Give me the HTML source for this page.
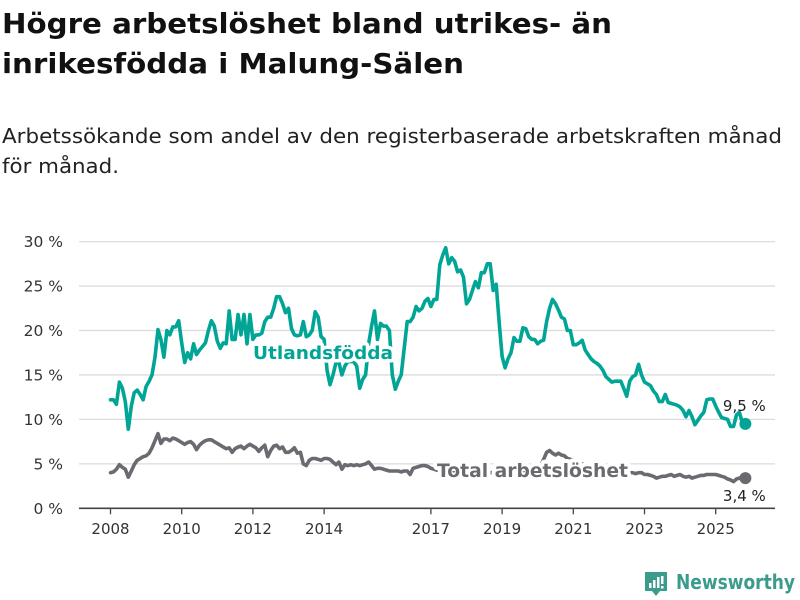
<!DOCTYPE html>
<html><head><meta charset="utf-8"><style>
body{margin:0;background:#fff;width:800px;height:600px;overflow:hidden;font-family:"DejaVu Sans","Liberation Sans",sans-serif;}
svg{position:absolute;left:0;top:0;}
</style></head><body>
<svg width="800" height="200" style="font-family:'DejaVu Sans','Liberation Sans',sans-serif">
<text x="2" y="33" font-size="28" font-weight="bold" fill="#111" textLength="610" lengthAdjust="spacingAndGlyphs">Högre arbetslöshet bland utrikes- än</text>
<text x="2" y="73" font-size="28" font-weight="bold" fill="#111" textLength="462" lengthAdjust="spacingAndGlyphs">inrikesfödda i Malung-Sälen</text>
<text x="2" y="143" font-size="20" fill="#222" textLength="780" lengthAdjust="spacingAndGlyphs">Arbetssökande som andel av den registerbaserade arbetskraften månad</text>
<text x="2" y="173" font-size="20" fill="#222" textLength="117" lengthAdjust="spacingAndGlyphs">för månad.</text>
</svg>
<svg id="chart" width="800" height="600" style="font-family:'DejaVu Sans','Liberation Sans',sans-serif"></svg>
<script>
const yTicks=[0,5,10,15,20,25,30];
const xTicks=[2008,2010,2012,2014,2017,2019,2021,2023,2025];
const startYear=2008;
const foreignBorn=[
12.2,12.2,11.7,14.2,13.5,12,8.9,11.5,13,13.3,12.8,12.2,
13.7,14.3,15,17,20.1,19,17,20,19.5,20.4,20.4,21.1,
18.6,16.4,17.5,16.8,18.5,17.3,17.8,18.2,18.6,20,21.1,20.5,
18.8,18,18.6,18.5,22.2,19,19,21.8,19.5,21.8,18.5,21.8,
19,19.5,19.5,19.7,21,21.5,21.5,22.5,23.8,23.8,23,22,
22.5,20.2,19.5,19.4,19.5,21,19.3,19.5,20,22.1,21.5,19.3,
19,15.5,13.9,15,16.4,16.4,15,16,16.5,16.5,16.5,16,
13.5,14.5,15,18.5,20.5,22.2,19,20.8,20.5,20.5,20,15,
13.4,14.3,15,18,21,21,21.5,22.7,22.2,22.5,23.3,23.6,
22.7,23.5,23.5,27.4,28.5,29.3,27.5,28.2,27.8,26.6,26.8,26,
23,23.5,24.5,25.5,24.8,26.5,26.5,27.5,27.5,24.5,25.2,21,
17.1,15.8,16.8,17.5,19.2,18.8,18.8,20.3,20.2,19.3,19,19,
18.5,18.8,18.9,21,22.5,23.5,23,22.3,21.5,21.3,20,20,
18.4,18.4,18.6,18.9,17.8,17.3,16.8,16.5,16.3,16,15.5,14.8,
14.5,14.2,14.3,14.3,14.3,13.5,12.6,14.3,14.8,15,16.2,15,
14.2,14,13.8,13.2,12.8,12,12,12.8,11.9,11.8,11.7,11.6,
11.4,11,10.3,11,10.3,9.4,9.9,10.4,10.8,12.2,12.3,12.3,
11.5,10.8,10.2,10.1,10,9.2,9.2,10.5,10.8,9.6,9.5];
const total=[
4.0,4.1,4.4,4.9,4.6,4.4,3.5,4.2,4.9,5.4,5.6,5.8,
5.9,6.2,6.8,7.6,8.4,7.3,7.8,7.8,7.6,7.9,7.8,7.6,
7.4,7.2,7.4,7.5,7.2,6.6,7.1,7.4,7.6,7.7,7.7,7.5,
7.3,7.1,6.9,6.7,6.8,6.3,6.7,6.9,7.0,6.7,7.0,7.2,
7.0,6.8,6.4,6.8,7.1,5.8,6.5,7.0,7.1,6.7,6.9,6.3,
6.3,6.5,6.8,6.2,6.3,5.0,4.8,5.4,5.6,5.6,5.5,5.4,
5.6,5.6,5.5,5.2,4.9,5.2,4.4,4.9,4.8,4.9,4.8,4.9,
4.8,4.9,5.0,5.2,4.8,4.4,4.5,4.5,4.4,4.3,4.2,4.2,
4.2,4.2,4.1,4.2,4.2,3.8,4.5,4.6,4.7,4.8,4.8,4.7,
4.5,4.4,4.3,4.2,4.0,3.9,3.9,4.0,4.1,4.2,4.2,4.3,
4.2,4.1,4.0,3.9,3.8,3.7,3.8,3.9,4.0,4.0,3.9,3.9,
3.9,3.9,3.8,3.8,3.9,4.0,4.1,4.2,4.2,4.3,4.4,4.5,
4.6,4.8,5.5,6.3,6.5,6.2,6.0,6.2,6.0,5.9,5.6,5.5,
5.4,5.3,5.2,5.0,4.8,4.6,4.5,4.5,4.4,4.3,4.2,4.2,
4.1,4.0,4.0,4.0,4.0,3.9,4.0,4.0,4.0,3.9,4.0,4.0,
3.8,3.8,3.7,3.6,3.4,3.5,3.6,3.6,3.7,3.8,3.6,3.7,
3.8,3.6,3.5,3.6,3.4,3.5,3.6,3.7,3.7,3.8,3.8,3.8,
3.8,3.7,3.6,3.5,3.3,3.2,3.0,3.3,3.4,3.4,3.4];

const NS='http://www.w3.org/2000/svg';
const svg=document.getElementById('chart');
const xS=t=>110.5+(t-2008)*35.6;
const yS=v=>508.3-v*8.89;
const mk=(tag,at)=>{const e=document.createElementNS(NS,tag);for(const k in at)e.setAttribute(k,at[k]);svg.appendChild(e);return e;};
const fmt=v=>v.toFixed(1).replace('.',',')+' %';

yTicks.forEach(v=>{
  if(v>0){const g=mk('line',{x1:79,x2:775,y1:yS(v),y2:yS(v),stroke:'#dcdcdc','stroke-width':1.3});
  
  }
  const t=mk('text',{x:63,y:yS(v)+5.5,'text-anchor':'end','font-size':15.5,fill:'#333'});
  t.textContent=v+' %';
  
  
});
const ax=mk('line',{x1:79,x2:775,y1:yS(0),y2:yS(0),stroke:'#444','stroke-width':1.6});


xTicks.forEach(y=>{
  const tk=mk('line',{x1:xS(y),x2:xS(y),y1:yS(0),y2:yS(0)+6,stroke:'#444','stroke-width':1.3});
  
  
  const t=mk('text',{x:xS(y),y:534,'text-anchor':'middle','font-size':15,fill:'#333'});
  t.textContent=y;
  
  
});
function series(arr,color,name){
  const d=arr.map((v,i)=>(i?'L':'M')+xS(startYear+i/12).toFixed(1)+','+yS(v).toFixed(1)).join('');
  const p=mk('path',{d:d,fill:'none',stroke:color,'stroke-width':3.6,'stroke-linejoin':'round','stroke-linecap':'round'});
  
  
  const n=arr.length-1;
  const c=mk('circle',{cx:xS(startYear+n/12),cy:yS(arr[n]),r:6,fill:color});
  
  
  return n;
}
const nT=series(total,'#6b6a70','total');
const nF=series(foreignBorn,'#00a596','foreign-born');
const lab1=mk('text',{x:253,y:359,'font-size':18,'font-weight':'bold',fill:'#00a596',stroke:'#fff','stroke-width':7,'paint-order':'stroke','stroke-linejoin':'round',textLength:140,lengthAdjust:'spacingAndGlyphs'});
lab1.textContent='Utlandsfödda';


const lab2=mk('text',{x:437,y:477,'font-size':19,'font-weight':'bold',fill:'#6b6a70',stroke:'#fff','stroke-width':8,'paint-order':'stroke','stroke-linejoin':'round',textLength:191,lengthAdjust:'spacingAndGlyphs'});
lab2.textContent='Total arbetslöshet';


const v1=mk('text',{x:xS(startYear+nF/12)-1,y:yS(foreignBorn[nF])-13,'text-anchor':'middle','font-size':15,fill:'#222'});
v1.textContent=fmt(foreignBorn[nF]);


const v2=mk('text',{x:xS(startYear+nT/12)-1,y:yS(total[nT])+23,'text-anchor':'middle','font-size':15,fill:'#222'});
v2.textContent=fmt(total[nT]);


</script>
<svg width="800" height="600" style="pointer-events:none">
<path d="M645 572 h22 v19 h-7 l-4 5 l-4 -5 h-7 z" fill="#3b9b8d"/>
<rect x="649" y="583" width="2.5" height="5" fill="#fff"/>
<rect x="653" y="580" width="2.5" height="8" fill="#fff"/>
<rect x="657" y="577" width="2.5" height="11" fill="#fff"/>
<rect x="661" y="576" width="2.5" height="8" fill="#fff"/>
<rect x="661" y="586" width="2.5" height="2.5" fill="#fff"/>
<text x="676" y="589" font-size="20" font-weight="bold" fill="#3b9b8d" font-family="DejaVu Sans, sans-serif" textLength="119" lengthAdjust="spacingAndGlyphs">Newsworthy</text>
</svg>
</body></html>
